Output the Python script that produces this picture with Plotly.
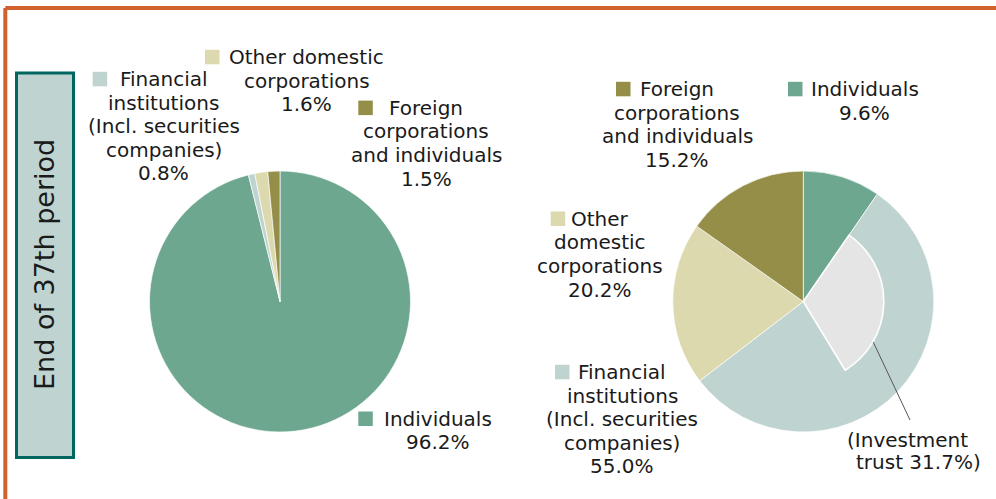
import plotly.graph_objects as go

# ---- data -------------------------------------------------------------
categories = [
    "Individuals",
    "Financial institutions (Incl. securities companies)",
    "Other domestic corporations",
    "Foreign corporations and individuals",
]
shareholders_pct = [96.2, 0.8, 1.6, 1.5]      # left pie
shares_pct = [9.6, 55.0, 20.2, 15.2]          # right pie
trust_name = "Investment trust"
trust_pct = 31.7                               # part of financial institutions
period_label = "End of 37th period"

# ---- styling ----------------------------------------------------------
W, H = 996, 499
FONT = "DejaVu Sans"
TEXT = "#1a1a1a"
slice_colors = ["#6ea78f", "#bfd4d1", "#dcd9ae", "#948e48"]
trust_color = "#e5e5e5"
frame_orange = "#d1622f"
box_border = "#00665f"
box_fill = "#bfd4d1"

FS = 20          # label font size
LINE = 23.6      # label line pitch (px)
SQ = 14.5        # marker square size

# words per line for each category label, per pie
left_breaks = [[1], [1, 1, 2, 1], [2, 1], [1, 1, 2]]
right_breaks = [[1], [1, 1, 2, 1], [1, 1, 1], [1, 1, 2]]

# (text centre x, first baseline y, square left x) in pixels
left_anchor = [(438.0, 425.7, 358.3), (163.5, 86.0, 92.7),
               (306.5, 64.0, 205.0), (426.3, 114.8, 358.3)]
right_anchor = [(864.6, 96.0, 788.0), (622.0, 379.0, 555.0),
                (599.5, 225.7, 550.7), (677.0, 96.0, 616.0)]

LEFT_C = (280.0, 301.5)
RIGHT_C = (803.3, 301.5)
R_OUT = 130.5
R_IN = 80.5


def px(x):
    return x / W


def py(y):
    return 1 - y / H


def domain(c, r):
    cx, cy = c
    return dict(x=[px(cx - r), px(cx + r)], y=[py(cy + r), py(cy - r)])


def wrap(name, breaks):
    words = name.split(" ")
    out, i = [], 0
    for n in breaks:
        out.append(" ".join(words[i:i + n]))
        i += n
    return out


fig = go.Figure()

common = dict(sort=False, direction="clockwise", rotation=0,
              textinfo="none", hoverinfo="label+percent", showlegend=False)

fig.add_trace(go.Pie(labels=categories, values=shareholders_pct,
                     marker=dict(colors=slice_colors,
                                 line=dict(color="rgba(255,255,255,0.85)", width=0.8)),
                     domain=domain(LEFT_C, R_OUT), **common))

fig.add_trace(go.Pie(labels=categories, values=shares_pct,
                     marker=dict(colors=slice_colors,
                                 line=dict(color="rgba(255,255,255,0.85)", width=0.8)),
                     domain=domain(RIGHT_C, R_OUT), **common))

# inner sector: investment trust share, starting where individuals end
rest = round(100 - shares_pct[0] - trust_pct, 1)
fig.add_trace(go.Pie(labels=["", trust_name, " "],
                     values=[shares_pct[0], trust_pct, rest],
                     marker=dict(colors=["rgba(0,0,0,0)", trust_color, "rgba(0,0,0,0)"],
                                 line=dict(color="white", width=[0, 1.6, 0])),
                     domain=domain(RIGHT_C, R_IN), **common))

shapes = []
annotations = []

# outer orange frame (top and left edges)
shapes.append(dict(type="line", xref="paper", yref="paper",
                   x0=px(5.3), y0=py(8), x1=px(W + 5), y1=py(8),
                   line=dict(color=frame_orange, width=4)))
shapes.append(dict(type="line", xref="paper", yref="paper",
                   x0=px(5.3), y0=py(8), x1=px(5.3), y1=py(H + 5),
                   line=dict(color=frame_orange, width=4)))

# period box
shapes.append(dict(type="rect", xref="paper", yref="paper",
                   x0=px(16.5), y0=py(457.5), x1=px(73.5), y1=py(73),
                   fillcolor=box_fill, line=dict(color=box_border, width=3)))
annotations.append(dict(x=px(44), y=py(265), xref="paper", yref="paper",
                        text=period_label, textangle=-90, showarrow=False,
                        xanchor="center", yanchor="middle",
                        font=dict(family=FONT, size=27, color=TEXT)))


def add_label(lines, cx, base, sqx, color):
    for k, ln in enumerate(lines):
        annotations.append(dict(x=px(cx), y=py(base + k * LINE - 7),
                                xref="paper", yref="paper", text=ln,
                                showarrow=False, xanchor="center", yanchor="middle",
                                font=dict(family=FONT, size=FS, color=TEXT)))
    shapes.append(dict(type="rect", xref="paper", yref="paper",
                       x0=px(sqx), x1=px(sqx + SQ),
                       y0=py(base + 0.3), y1=py(base + 0.3 - SQ),
                       fillcolor=color, line=dict(width=0)))


for i, name in enumerate(categories):
    cx, base, sqx = left_anchor[i]
    add_label(wrap(name, left_breaks[i]) + [f"{shareholders_pct[i]:.1f}%"],
              cx, base, sqx, slice_colors[i])
    cx, base, sqx = right_anchor[i]
    add_label(wrap(name, right_breaks[i]) + [f"{shares_pct[i]:.1f}%"],
              cx, base, sqx, slice_colors[i])

# investment trust callout
t_words = trust_name.split(" ")
annotations.append(dict(x=px(907.5), y=py(446.7 - 7), xref="paper", yref="paper",
                        text=f"({t_words[0]}", showarrow=False,
                        xanchor="center", yanchor="middle",
                        font=dict(family=FONT, size=FS, color=TEXT)))
annotations.append(dict(x=px(918.0), y=py(469.3 - 7), xref="paper", yref="paper",
                        text=f"{t_words[1]} {trust_pct:.1f}%)", showarrow=False,
                        xanchor="center", yanchor="middle",
                        font=dict(family=FONT, size=FS, color=TEXT)))
shapes.append(dict(type="line", xref="paper", yref="paper",
                   x0=px(873.3), y0=py(342.2), x1=px(910), y1=py(420),
                   line=dict(color="#555555", width=1)))

fig.update_layout(width=W, height=H, margin=dict(l=0, r=0, t=0, b=0),
                  paper_bgcolor="white", plot_bgcolor="white",
                  shapes=shapes, annotations=annotations, showlegend=False)

fig.write_html("out.html")
